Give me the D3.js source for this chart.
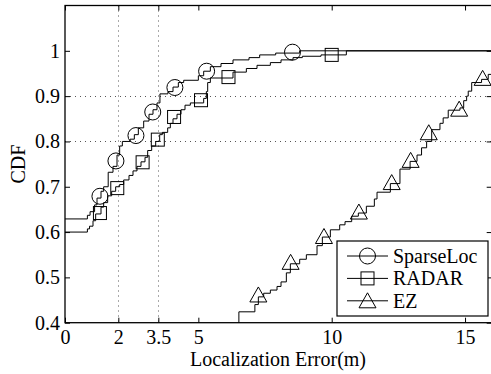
<!DOCTYPE html>
<html>
<head>
<meta charset="utf-8">
<script src="https://cdn.jsdelivr.net/npm/d3@7"></script>
<style>
  body { margin: 0; background: #fff; }
  svg { display: block; }
  text { font-family: "Liberation Serif", "Times New Roman", serif; fill: #000; }
</style>
</head>
<body>
<svg id="chart" width="491" height="374"></svg>
<script>
// step points: error (m) and CDF value
var sparseX = [0, 0.84, 0.94, 1.11, 1.2, 1.35, 1.45, 1.62, 1.8, 1.95, 2.05, 2.15, 2.44, 2.6, 2.75, 2.95, 3.15, 3.3, 3.45, 3.56, 3.86, 4.05, 4.25, 4.45, 5.0, 5.2, 5.45, 5.85, 6.3, 6.9, 7.3, 7.9, 8.8, 16];
var sparseY = [0.629, 0.637, 0.645, 0.66, 0.675, 0.69, 0.70, 0.732, 0.745, 0.77, 0.79, 0.80, 0.805, 0.815, 0.83, 0.845, 0.86, 0.87, 0.885, 0.905, 0.91, 0.92, 0.93, 0.935, 0.945, 0.955, 0.965, 0.972, 0.98, 0.985, 0.991, 0.995, 1.0, 1.0];

var radarX = [0, 0.84, 0.92, 1.05, 1.15, 1.35, 1.45, 1.6, 1.75, 1.9, 2.05, 2.2, 2.4, 2.55, 2.7, 2.85, 3.0, 3.1, 3.25, 3.4, 3.55, 3.65, 3.85, 3.95, 4.05, 4.2, 4.35, 4.5, 4.7, 5.2, 5.3, 5.35, 5.45, 6.3, 6.8, 7.2, 7.7, 8.1, 8.55, 8.9, 9.6, 10.55, 16];
var radarY = [0.6, 0.607, 0.613, 0.625, 0.64, 0.655, 0.665, 0.68, 0.69, 0.70, 0.705, 0.715, 0.725, 0.735, 0.745, 0.755, 0.765, 0.78, 0.79, 0.80, 0.815, 0.82, 0.83, 0.84, 0.85, 0.86, 0.87, 0.88, 0.885, 0.895, 0.91, 0.93, 0.94, 0.953, 0.961, 0.968, 0.974, 0.98, 0.985, 0.988, 0.991, 1.0, 1.0];

var ezX = [0, 6.52, 7.12, 7.25, 7.45, 7.7, 7.95, 8.1, 8.3, 8.45, 8.8, 9.05, 9.45, 9.65, 9.95, 10.3, 10.5, 10.75, 11.0, 11.3, 11.6, 11.7, 12.2, 12.56, 12.94, 13.2, 13.37, 13.56, 13.75, 14.06, 14.18, 14.37, 14.81, 14.95, 15.06, 15.12, 15.25, 15.62, 15.87, 16];
var ezY = [0.35, 0.424, 0.44, 0.457, 0.465, 0.472, 0.48, 0.49, 0.51, 0.53, 0.54, 0.55, 0.57, 0.589, 0.605, 0.616, 0.623, 0.635, 0.642, 0.657, 0.673, 0.688, 0.707, 0.739, 0.756, 0.77, 0.786, 0.80, 0.826, 0.84, 0.852, 0.869, 0.874, 0.89, 0.9, 0.911, 0.93, 0.937, 0.948, 0.95];

// marker positions
var sparseMarkX = [1.31, 1.91, 2.66, 3.29, 4.12, 5.31, 8.53];
var sparseMarkY = [0.679, 0.757, 0.813, 0.865, 0.919, 0.955, 0.997];
var radarMarkX = [1.31, 1.96, 2.91, 3.48, 4.09, 5.1, 6.13, 10.0];
var radarMarkY = [0.642, 0.697, 0.754, 0.804, 0.854, 0.891, 0.942, 0.991];
var ezMarkX = [7.25, 8.46, 9.71, 11.02, 12.25, 12.96, 13.64, 14.78, 15.66];
var ezMarkY = [0.459, 0.531, 0.588, 0.642, 0.707, 0.756, 0.817, 0.869, 0.937];

var xTicks = [0, 2, 3.5, 5, 10, 15];
var yTicks = [0.4, 0.5, 0.6, 0.7, 0.8, 0.9, 1];
var xGrid = [2, 3.5];
var yGrid = [0.8, 0.9];
var seriesNames = ['SparseLoc', 'RADAR', 'EZ'];

var svg = d3.select('#chart');
var pLeft = 65, pRight = 491.7, pTop = 5.5, pBottom = 322.7;

var x = d3.scaleLinear().domain([0, 16]).range([pLeft, pRight]);
var y = d3.scaleLinear().domain([0.4, 1.1]).range([pBottom, pTop]);

svg.append('clipPath').attr('id', 'plotclip')
  .append('rect')
  .attr('x', pLeft).attr('y', pTop)
  .attr('width', pRight - pLeft).attr('height', pBottom - pTop);

// dotted grid lines
var grid = svg.append('g')
  .attr('stroke', '#555')
  .attr('stroke-width', 1)
  .attr('stroke-dasharray', '1,4');
grid.selectAll('.gx').data(xGrid).enter().append('line')
  .attr('x1', function (d) { return Math.round(x(d)) + 0.5; })
  .attr('x2', function (d) { return Math.round(x(d)) + 0.5; })
  .attr('y1', pTop).attr('y2', pBottom);
grid.selectAll('.gy').data(yGrid).enter().append('line')
  .attr('y1', function (d) { return Math.round(y(d)) + 0.5; })
  .attr('y2', function (d) { return Math.round(y(d)) + 0.5; })
  .attr('x1', pLeft).attr('x2', pRight);

// axes with inward ticks
var fmt = function (d) { return String(d); };
svg.append('g')
  .attr('transform', 'translate(0,' + pBottom + ')')
  .call(d3.axisBottom(x).tickValues(xTicks).tickFormat(fmt).tickSizeInner(-5).tickSizeOuter(0).tickPadding(7))
  .call(function (g) { g.select('.domain').remove(); });
svg.append('g')
  .attr('transform', 'translate(0,' + pTop + ')')
  .call(d3.axisTop(x).tickValues(xTicks).tickFormat('').tickSizeInner(-5).tickSizeOuter(0))
  .call(function (g) { g.select('.domain').remove(); });
svg.append('g')
  .attr('transform', 'translate(' + pLeft + ',0)')
  .call(d3.axisLeft(y).tickValues(yTicks).tickFormat(fmt).tickSizeInner(-5).tickSizeOuter(0).tickPadding(5))
  .call(function (g) { g.select('.domain').remove(); });
svg.append('g')
  .attr('transform', 'translate(' + pRight + ',0)')
  .call(d3.axisRight(y).tickValues(yTicks).tickFormat('').tickSizeInner(-5).tickSizeOuter(0))
  .call(function (g) { g.select('.domain').remove(); });

svg.selectAll('.tick text')
  .style('font-family', '"Liberation Serif", "Times New Roman", serif')
  .style('font-size', '20px')
  .attr('fill', '#000');
svg.selectAll('.tick line').attr('stroke', '#000');

// step curves
var line = d3.line()
  .x(function (d) { return x(d[0]); })
  .y(function (d) { return y(d[1]); })
  .curve(d3.curveStepAfter);

var plot = svg.append('g').attr('clip-path', 'url(#plotclip)');
var series = [
  { xs: sparseX, ys: sparseY, mx: sparseMarkX, my: sparseMarkY, shape: 'circle' },
  { xs: radarX, ys: radarY, mx: radarMarkX, my: radarMarkY, shape: 'square' },
  { xs: ezX, ys: ezY, mx: ezMarkX, my: ezMarkY, shape: 'triangle' }
];

function marker(sel, shape, cx, cy) {
  if (shape === 'circle') {
    sel.append('circle').attr('cx', cx).attr('cy', cy).attr('r', 8);
  } else if (shape === 'square') {
    sel.append('rect').attr('x', cx - 6.5).attr('y', cy - 6.5).attr('width', 13).attr('height', 13);
  } else {
    sel.append('path').attr('d', 'M' + cx + ',' + (cy - 9) + 'L' + (cx + 8.5) + ',' + (cy + 6) + 'L' + (cx - 8.5) + ',' + (cy + 6) + 'Z');
  }
}

series.forEach(function (s) {
  var pts = s.xs.map(function (v, i) { return [v, s.ys[i]]; });
  plot.append('path')
    .attr('d', line(pts))
    .attr('fill', 'none')
    .attr('stroke', '#000')
    .attr('stroke-width', 1);
  var mg = plot.append('g').attr('fill', 'none').attr('stroke', '#000').attr('stroke-width', 1);
  s.mx.forEach(function (v, i) {
    marker(mg, s.shape, x(v), y(s.my[i]));
  });
});

// axes box
svg.append('rect')
  .attr('x', pLeft).attr('y', pTop)
  .attr('width', pRight - pLeft).attr('height', pBottom - pTop)
  .attr('fill', 'none').attr('stroke', '#000').attr('stroke-width', 1.3);

// axis labels
svg.append('text')
  .attr('x', 278).attr('y', 366)
  .attr('text-anchor', 'middle')
  .style('font-size', '20px')
  .text('Localization Error(m)');
svg.append('text')
  .attr('transform', 'translate(25,' + ((pTop + pBottom) / 2) + ') rotate(-90)')
  .attr('text-anchor', 'middle')
  .style('font-size', '20px')
  .text('CDF');

// legend
var lg = svg.append('g');
lg.append('rect')
  .attr('x', 337).attr('y', 241).attr('width', 151).attr('height', 75)
  .attr('fill', '#fff').attr('stroke', '#000').attr('stroke-width', 1.2);
seriesNames.forEach(function (name, i) {
  var cy = 256 + i * 22.4;
  lg.append('line')
    .attr('x1', 347).attr('x2', 388).attr('y1', cy).attr('y2', cy)
    .attr('stroke', '#000').attr('stroke-width', 1);
  var mg = lg.append('g').attr('fill', 'none').attr('stroke', '#000').attr('stroke-width', 1);
  marker(mg, series[i].shape, 367.5, cy + (series[i].shape === 'triangle' ? 1 : 0));
  lg.append('text')
    .attr('x', 393).attr('y', cy + 7)
    .style('font-size', '20px')
    .text(name);
});
</script>
</body>
</html>
